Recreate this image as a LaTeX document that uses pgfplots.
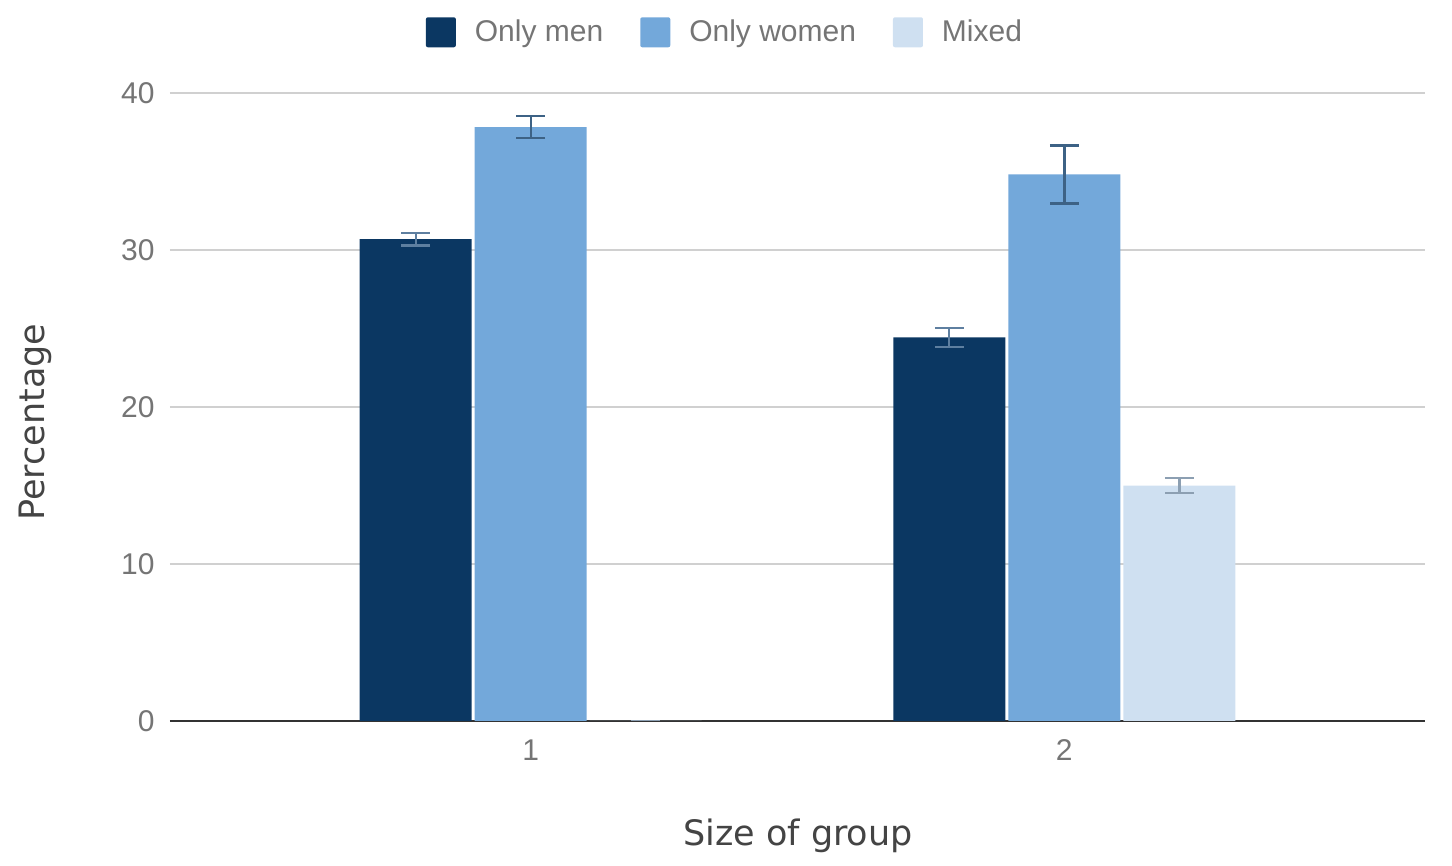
\documentclass[border=0pt]{standalone}
\usepackage{pgfplots}
\pgfplotsset{compat=1.18}
\usepackage{fontspec}
\setmainfont{Liberation Sans}
\newfontfamily\titlefont{DejaVu Sans}
\definecolor{menc}{HTML}{0B3762}
\definecolor{womenc}{HTML}{73A8DA}
\definecolor{mixedc}{HTML}{CFE0F1}
\definecolor{menerr}{HTML}{5E7FA0}
\definecolor{womenerr}{HTML}{3D6285}
\definecolor{mixederr}{HTML}{8C9FB2}
\definecolor{tickc}{HTML}{757575}
\definecolor{titlec}{HTML}{444444}
\definecolor{gridc}{HTML}{D0D0D0}
\definecolor{axisc}{HTML}{333333}
\begin{document}
\begin{tikzpicture}
\useasboundingbox (-85pt,-72.5pt) rectangle (641pt,360.5pt);
\begin{axis}[
  at={(0pt,0pt)}, anchor=south west,
  scale only axis,
  width=627.5pt, height=313.85pt,
  xmin=0.324, xmax=2.676,
  ymin=0, ymax=40,
  ybar=1.5pt, bar width=56pt,
  xtick={1,2}, ytick={0,10,20,30,40},
  major tick length=0pt,
  ymajorgrids,
  grid style={gridc, line width=1pt},
  axis lines*=left,
  x axis line style={draw=axisc, line width=1pt, -},
  y axis line style={draw=none},
  /pgf/number format/assume math mode=true,
  tick label style={font=\fontsize{15}{18}\selectfont, text=tickc},
  xticklabel style={anchor=center, yshift=-14.5pt},
  yticklabel style={anchor=east, inner sep=0pt, xshift=-7.5pt},
  xlabel={Size of group},
  ylabel={Percentage},
  label style={font=\titlefont\fontsize{17.5}{21}\selectfont, text=titlec},
  xlabel style={at={(axis description cs:0.5004,0)}, anchor=center, yshift=-57.5pt},
  ylabel style={at={(axis description cs:-0.1076,0.476)}, anchor=center},
  legend style={at={(axis description cs:0.443,1)}, anchor=center, yshift=30.5pt,
    draw=none, fill=none, legend columns=3,
    font=\fontsize{15}{18}\selectfont, text=tickc,
    /tikz/every even column/.append style={column sep=16.5pt}},
  legend image code/.code={\fill[#1, rounded corners=1pt] (0pt,-7.5pt) rectangle (15pt,7.5pt); \path (22.5pt,0pt);},
  error bars/y dir=both, error bars/y explicit,
  error bars/error mark options={rotate=90, mark size=7.25pt, line width=1.2pt},
]
\addplot[fill=menc, draw=none, error bars/error bar style={menerr, line width=1.2pt}]
  coordinates {(1,30.7) +- (0,0.4) (2,24.45) +- (0,0.6)};
\addplot[fill=womenc, draw=none, error bars/error bar style={womenerr, line width=1.2pt}]
  coordinates {(1,37.85) +- (0,0.71) (2,34.83) +- (0,1.85)};
\addplot[fill=mixedc, draw=none, error bars/error bar style={mixederr, line width=1.2pt}]
  coordinates {(1,0) +- (0,0) (2,15.0) +- (0,0.49)};
\legend{Only men, Only women, Mixed}
\end{axis}
\end{tikzpicture}
\end{document}
